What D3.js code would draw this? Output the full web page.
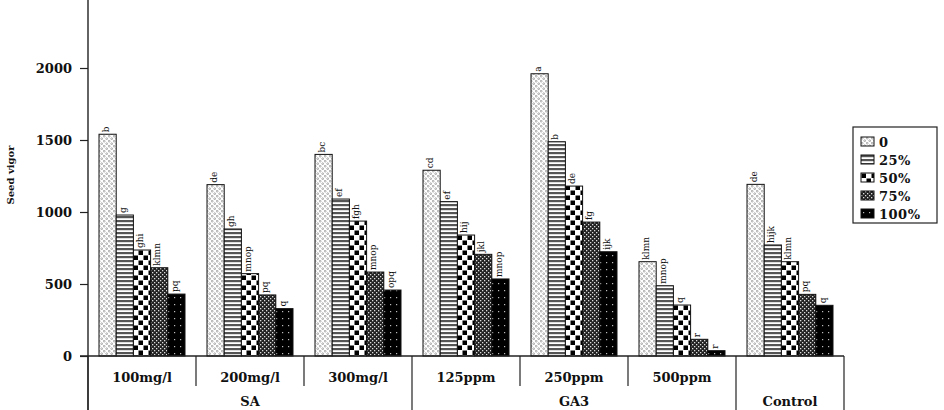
<!DOCTYPE html>
<html>
<head>
<meta charset="utf-8">
<script src="https://cdn.jsdelivr.net/npm/d3@7"></script>
<style>
  body { margin: 0; background: #fff; }
  svg text { font-family: "DejaVu Serif", "Liberation Serif", serif; font-weight: bold; fill: #111; }
</style>
</head>
<body>
<svg id="chart"></svg>
<script>
const subCategories = ["100mg/l", "200mg/l", "300mg/l", "125ppm", "250ppm", "500ppm", "Control"];
const groups = [
  { name: "SA", members: ["100mg/l", "200mg/l", "300mg/l"] },
  { name: "GA3", members: ["125ppm", "250ppm", "500ppm"] },
  { name: "Control", members: ["Control"] }
];
const series = ["0", "25%", "50%", "75%", "100%"];

// one array per series, in subCategories order
const s0 = [1540, 1190, 1400, 1290, 1960, 655, 1192];
const s25 = [979, 882, 1090, 1072, 1488, 488, 771];
const s50 = [736, 572, 937, 840, 1180, 354, 655];
const s75 = [613, 424, 583, 706, 930, 116, 428];
const s100 = [430, 329, 458, 535, 724, 37, 352];

const l0 = ["b", "de", "bc", "cd", "a", "klmn", "de"];
const l25 = ["g", "gh", "ef", "ef", "b", "mnop", "hijk"];
const l50 = ["ghi", "mnop", "fgh", "hij", "de", "q", "klmn"];
const l75 = ["klmn", "pq", "mnop", "jkl", "fg", "r", "pq"];
const l100 = ["pq", "q", "opq", "mnop", "ijk", "r", "q"];

const yTicks = [0, 500, 1000, 1500, 2000];

const values = [s0, s25, s50, s75, s100];
const letters = [l0, l25, l50, l75, l100];

const width = 944;
const height = 410;
const left = 88, right = 844, base = 356;

const svg = d3.select("#chart")
  .attr("width", width)
  .attr("height", height);

// patterns
const defs = svg.append("defs");
function pattern(id, w, h) {
  return defs.append("pattern").attr("id", id)
    .attr("patternUnits", "userSpaceOnUse")
    .attr("width", w).attr("height", h);
}
let p = pattern("p0", 5, 5);
p.append("rect").attr("width", 5).attr("height", 5).attr("fill", "#fff");
p.append("circle").attr("cx", 1.2).attr("cy", 1.2).attr("r", 0.9).attr("fill", "none").attr("stroke", "#888").attr("stroke-width", 0.7);
p.append("circle").attr("cx", 3.7).attr("cy", 3.7).attr("r", 0.9).attr("fill", "none").attr("stroke", "#888").attr("stroke-width", 0.7);

p = pattern("p25", 4, 4);
p.append("rect").attr("width", 4).attr("height", 4).attr("fill", "#fff");
p.append("rect").attr("width", 4).attr("height", 2.2).attr("fill", "#555");

p = pattern("p50", 10, 10);
p.append("rect").attr("width", 10).attr("height", 10).attr("fill", "#fff");
p.append("rect").attr("x", 0.5).attr("y", 0.5).attr("width", 4.5).attr("height", 4.5).attr("fill", "#000");
p.append("rect").attr("x", 5.5).attr("y", 5.5).attr("width", 4.5).attr("height", 4.5).attr("fill", "#000");

p = pattern("p75", 4, 4);
p.append("rect").attr("width", 4).attr("height", 4).attr("fill", "#222");
p.append("rect").attr("x", 0).attr("y", 0).attr("width", 1.3).attr("height", 1.3).attr("fill", "#ddd");
p.append("rect").attr("x", 2).attr("y", 2).attr("width", 1.3).attr("height", 1.3).attr("fill", "#ddd");

p = pattern("p100", 6, 7);
p.append("rect").attr("width", 6).attr("height", 7).attr("fill", "#000");
p.append("rect").attr("x", 2).attr("y", 3).attr("width", 1.2).attr("height", 1.2).attr("fill", "#bbb");

const fills = ["url(#p0)", "url(#p25)", "url(#p50)", "url(#p75)", "url(#p100)"];

// scales
const x0 = d3.scaleBand().domain(subCategories).range([left, right]);
const x1 = d3.scaleBand().domain(series).range([11, 97]);
const y = d3.scaleLinear().domain([0, 2500]).range([base, -4]);

// y axis
const yAxis = svg.append("g")
  .attr("transform", `translate(${left},0)`)
  .call(d3.axisLeft(y).tickValues(yTicks).tickSize(8).tickPadding(8).tickFormat(d3.format("d")));
yAxis.select(".domain").remove();
yAxis.selectAll("line").attr("stroke", "#222").attr("stroke-width", 1.2);
yAxis.selectAll("text").style("font-size", "13px");

svg.append("line")
  .attr("x1", left).attr("x2", left).attr("y1", 0).attr("y2", height)
  .attr("stroke", "#222").attr("stroke-width", 1.4);

svg.append("text")
  .attr("transform", `translate(14,175) rotate(-90)`)
  .attr("text-anchor", "middle")
  .style("font-size", "10px")
  .text("Seed vigor");

// bars
const cat = svg.selectAll(".cat")
  .data(subCategories)
  .join("g")
  .attr("class", "cat")
  .attr("transform", d => `translate(${x0(d)},0)`);

cat.selectAll("rect")
  .data((d, i) => series.map((s, k) => ({ s, k, v: values[k][i], lab: letters[k][i] })))
  .join("rect")
  .attr("x", d => x1(d.s))
  .attr("y", d => y(d.v))
  .attr("width", x1.bandwidth())
  .attr("height", d => base - y(d.v))
  .attr("fill", d => fills[d.k])
  .attr("stroke", "#111")
  .attr("stroke-width", 1);

cat.selectAll("text")
  .data((d, i) => series.map((s, k) => ({ s, k, v: values[k][i], lab: letters[k][i] })))
  .join("text")
  .attr("transform", d => `translate(${x1(d.s) + x1.bandwidth() / 2 - 2},${y(d.v) - 2}) rotate(-90)`)
  .attr("dy", "0.35em")
  .style("font-size", "9px")
  .style("font-weight", "normal")
  .text(d => d.lab);

// x axis with category rows
svg.append("line")
  .attr("x1", 80).attr("x2", right).attr("y1", base).attr("y2", base)
  .attr("stroke", "#222").attr("stroke-width", 1.4);

const groupEdges = new Set([left, right]);
groups.forEach(g => {
  groupEdges.add(x0(g.members[0]));
  groupEdges.add(x0(g.members[g.members.length - 1]) + x0.bandwidth());
});
subCategories.forEach(c => {
  const xe = x0(c);
  if (!groupEdges.has(xe)) {
    svg.append("line").attr("x1", xe).attr("x2", xe).attr("y1", base).attr("y2", 386)
      .attr("stroke", "#222").attr("stroke-width", 1.2);
  }
});
groupEdges.forEach(xe => {
  svg.append("line").attr("x1", xe).attr("x2", xe).attr("y1", base).attr("y2", height)
    .attr("stroke", "#222").attr("stroke-width", 1.2);
});

svg.selectAll(".sublab")
  .data(subCategories.filter(c => c !== "Control"))
  .join("text")
  .attr("class", "sublab")
  .attr("x", d => x0(d) + x0.bandwidth() / 2)
  .attr("y", 382)
  .attr("text-anchor", "middle")
  .style("font-size", "13px")
  .text(d => d);

svg.selectAll(".grplab")
  .data(groups)
  .join("text")
  .attr("class", "grplab")
  .attr("x", d => (x0(d.members[0]) + x0(d.members[d.members.length - 1]) + x0.bandwidth()) / 2)
  .attr("y", 406)
  .attr("text-anchor", "middle")
  .style("font-size", "13px")
  .text(d => d.name);

// legend
const legend = svg.append("g").attr("transform", "translate(853,127)");
legend.append("rect")
  .attr("width", 84).attr("height", 96)
  .attr("fill", "#fff").attr("stroke", "#222").attr("stroke-width", 1.2);
const item = legend.selectAll(".item")
  .data(series)
  .join("g")
  .attr("class", "item")
  .attr("transform", (d, i) => `translate(8,${10 + i * 18})`);
item.append("rect")
  .attr("width", 13).attr("height", 9)
  .attr("fill", (d, i) => fills[i])
  .attr("stroke", "#111");
item.append("text")
  .attr("x", 18).attr("y", 5)
  .attr("dy", "0.35em")
  .style("font-size", "13px")
  .style("letter-spacing", "0.5px")
  .text(d => d);
</script>
</body>
</html>
